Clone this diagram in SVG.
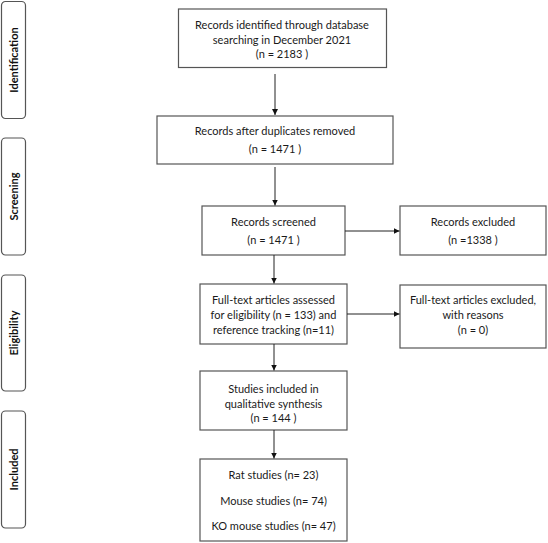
<svg xmlns="http://www.w3.org/2000/svg" width="548" height="543" viewBox="0 0 548 543">
<defs>
<marker id="ah" viewBox="0 0 10 10" refX="10" refY="5" markerWidth="6" markerHeight="6" markerUnits="userSpaceOnUse" orient="auto">
<path d="M0,0 L10,5 L0,10 z" fill="#111"/>
</marker>
<style>
.box{fill:#fff;stroke:#555;stroke-width:1.2}
.side{fill:#fff;stroke:#555;stroke-width:1.2}
.t{font-family:Lato,"Liberation Sans",sans-serif;font-size:11px;fill:#1a1a1a;text-anchor:middle}
.st{font-family:Lato,"Liberation Sans",sans-serif;font-size:11px;font-weight:bold;fill:#111;text-anchor:middle}
.c{stroke:#222;stroke-width:1;fill:none;marker-end:url(#ah)}
</style>
</defs>
<rect width="548" height="543" fill="#fff"/>
<g id="side-identification"><rect class="side" x="1.5" y="1.5" width="24" height="117" rx="4"/><text class="st" transform="translate(18,60) rotate(-90)">Identification</text></g>
<g id="side-screening"><rect class="side" x="1.5" y="138" width="24" height="117" rx="4"/><text class="st" transform="translate(18,196.5) rotate(-90)">Screening</text></g>
<g id="side-eligibility"><rect class="side" x="1.5" y="275" width="24" height="116" rx="4"/><text class="st" transform="translate(18,333) rotate(-90)">Eligibility</text></g>
<g id="side-included"><rect class="side" x="1.5" y="411" width="24" height="117" rx="4"/><text class="st" transform="translate(18,469.5) rotate(-90)">Included</text></g>
<g id="n1"><rect class="box" x="178.5" y="9" width="208" height="58.5"/>
<text class="t" x="282" y="29">Records identified through database</text>
<text class="t" x="282" y="43.5">searching in December 2021</text>
<text class="t" x="282" y="58">(n = 2183 )</text></g>
<g id="n2"><rect class="box" x="157" y="116" width="236" height="48"/>
<text class="t" x="275" y="135">Records after duplicates removed</text>
<text class="t" x="275" y="153">(n = 1471 )</text></g>
<g id="n3"><rect class="box" x="202" y="206" width="143" height="49"/>
<text class="t" x="273.5" y="226">Records screened</text>
<text class="t" x="273.5" y="243.5">(n = 1471 )</text></g>
<g id="n4"><rect class="box" x="400" y="206" width="146" height="49"/>
<text class="t" x="473" y="226">Records excluded</text>
<text class="t" x="473" y="243.5">(n =1338 )</text></g>
<g id="n5"><rect class="box" x="200" y="284" width="147" height="60"/>
<text class="t" x="273.5" y="304">Full-text articles assessed</text>
<text class="t" x="273.5" y="319">for eligibility (n = 133) and</text>
<text class="t" x="273.5" y="333.5">reference tracking (n=11)</text></g>
<g id="n6"><rect class="box" x="400" y="285" width="146" height="63"/>
<text class="t" x="473" y="304">Full-text articles excluded,</text>
<text class="t" x="473" y="319">with reasons</text>
<text class="t" x="473" y="333.5">(n = 0)</text></g>
<g id="n7"><rect class="box" x="200" y="371" width="147" height="59"/>
<text class="t" x="273.5" y="393">Studies included in</text>
<text class="t" x="273.5" y="407.5">qualitative synthesis</text>
<text class="t" x="273.5" y="422">(n = 144 )</text></g>
<g id="n8"><rect class="box" x="200" y="459" width="147" height="82"/>
<text class="t" x="273.5" y="479">Rat studies (n= 23)</text>
<text class="t" x="273.5" y="505">Mouse studies (n= 74)</text>
<text class="t" x="273.5" y="530">KO mouse studies (n= 47)</text></g>
<g id="connectors">
<path class="c" d="M275,74 V115"/>
<path class="c" d="M275,167 V205.5"/>
<path class="c" d="M345,231 H399.5"/>
<path class="c" d="M274,255 V283.5"/>
<path class="c" d="M347,314 H399.5"/>
<path class="c" d="M274,344 V370.5"/>
<path class="c" d="M274,430 V458.5"/>
</g>
</svg>
